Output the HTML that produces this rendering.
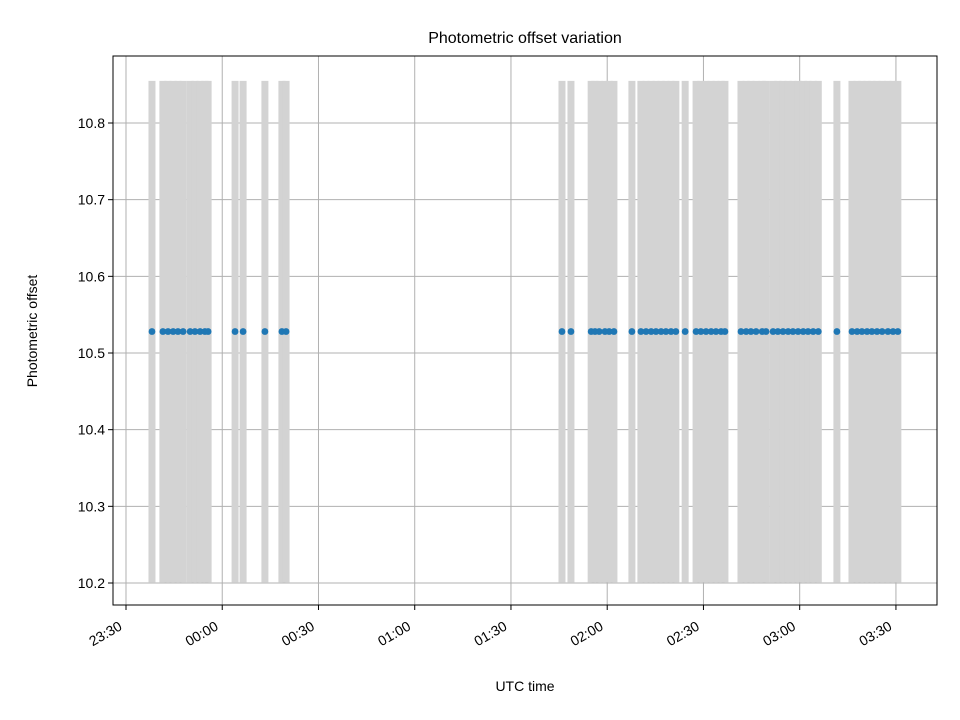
<!DOCTYPE html>
<html><head><meta charset="utf-8"><style>
body{margin:0;background:#fff;}
svg{display:block;font-family:"Liberation Sans","DejaVu Sans",sans-serif;}
</style></head><body>
<svg id="chart" width="960" height="720" viewBox="0 0 960 720">
<rect width="960" height="720" fill="#fff"/>
<text x="525" y="43" font-size="16" text-anchor="middle">Photometric offset variation</text>
<g id="grid"></g><g id="bars"></g><g id="pts"></g><g id="axes"></g>
<text x="525" y="691" font-size="14" text-anchor="middle">UTC time</text>
<text transform="translate(37,331) rotate(-90)" font-size="14" text-anchor="middle">Photometric offset</text>
</svg>
<script>
// minutes after 23:30 UTC
const times=[8.1,11.5,13.1,14.7,16.2,17.8,20.0,21.5,23.1,24.6,25.6,34.0,36.5,43.3,48.6,49.9,
135.9,138.7,145.0,146.2,147.5,149.3,150.6,152.1,157.7,160.5,162.1,163.7,165.2,166.8,168.3,169.9,171.4,174.3,
177.7,179.2,180.8,182.4,183.9,185.5,186.7,191.7,193.3,194.8,196.4,198.3,199.5,201.7,203.2,204.8,206.4,207.9,
209.5,211.1,212.6,214.2,215.8,221.6,226.3,227.9,229.4,231.0,232.5,234.1,235.7,237.5,239.1,240.6];
const offsets=times.map(()=>10.528);
const errors=times.map(()=>0.327);
const yTicks=[10.2,10.3,10.4,10.5,10.6,10.7,10.8];
const xTicks=[0,30,60,90,120,150,180,210,240];
const xTickLabels=["23:30","00:00","00:30","01:00","01:30","02:00","02:30","03:00","03:30"];
const L=113,R=937,T=56,B=605;
const xMin=-4.05,xMax=252.8,yMin=10.1713,yMax=10.8874;
const X=v=>L+(v-xMin)/(xMax-xMin)*(R-L);
const Y=v=>B-(v-yMin)/(yMax-yMin)*(B-T);
const NS="http://www.w3.org/2000/svg";
function mk(tag,attrs,parent){const e=document.createElementNS(NS,tag);for(const k in attrs)e.setAttribute(k,attrs[k]);document.getElementById(parent).appendChild(e);return e;}
xTicks.forEach((t,i)=>{
 const g=mk('line',{x1:X(t),x2:X(t),y1:T,y2:B,stroke:'#b0b0b0','stroke-width':1},'grid');
 
 
 const tk=mk('line',{x1:X(t),x2:X(t),y1:B,y2:B+5,stroke:'#000','stroke-width':1},'axes');
 
 
 const px=X(t)-3,py=B+24;
 const tx=mk('text',{x:px,y:py,'font-size':14,'text-anchor':'end',transform:`rotate(-30 ${px} ${py})`},'axes');
 tx.textContent=xTickLabels[i];
 
 
});
yTicks.forEach(t=>{
 const g=mk('line',{x1:L,x2:R,y1:Y(t),y2:Y(t),stroke:'#b0b0b0','stroke-width':1},'grid');
 
 
 const tk=mk('line',{x1:L-5,x2:L,y1:Y(t),y2:Y(t),stroke:'#000','stroke-width':1},'axes');
 
 
 const tx=mk('text',{x:L-8,y:Y(t)+5,'font-size':14,'text-anchor':'end'},'axes');
 tx.textContent=t.toFixed(1);
 
 
});
times.forEach((t,i)=>{
 const b=mk('line',{x1:X(t),x2:X(t),y1:Y(offsets[i]-errors[i]),y2:Y(offsets[i]+errors[i]),stroke:'#d3d3d3','stroke-width':7},'bars');
 
 
});
times.forEach((t,i)=>{
 const p=mk('circle',{cx:X(t),cy:Y(offsets[i]),r:3.4,fill:'#1f77b4'},'pts');
 
 
});
const f=mk('rect',{x:L,y:T,width:R-L,height:B-T,fill:'none',stroke:'#000','stroke-width':1},'axes');


</script>
</body></html>
